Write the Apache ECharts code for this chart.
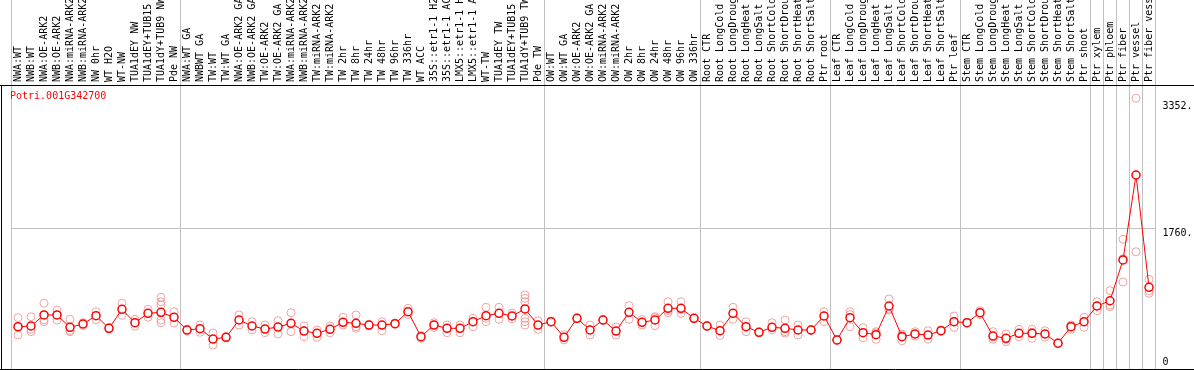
<!DOCTYPE html>
<html><head><meta charset="utf-8">
<script src="https://cdn.jsdelivr.net/npm/echarts@6/dist/echarts.min.js"></script>
<style>html,body{margin:0;padding:0;background:#fff}#c{width:1194px;height:370px}</style>
</head><body><div id="c"></div>
<script>
const geneId = 'Potri.001G342700';

const categories = [
  'NWA:WT','NWB:WT','NWA:OE-ARK2','NWB:OE-ARK2','NWA:miRNA-ARK2','NWB:miRNA-ARK2','NW 0hr','WT H2O','WT-NW','TUA1dEY NW','TUA1dEY+TUB15 NW','TUA1dY+TUB9 NW','Pde NW',
  'NWA:WT GA','NWBWT GA','TW:WT','TW:WT GA','NWA:OE-ARK2 GA','NWB:OE-ARK2 GA','TW:OE-ARK2','TW:OE-ARK2 GA','NWA:miRNA-ARK2 GA','NWB:miRNA-ARK2 GA','TW:miRNA-ARK2','TW:miRNA-ARK2 GA','TW 2hr','TW 8hr','TW 24hr','TW 48hr','TW 96hr','TW 336hr','WT ACC','35S::etr1-1 H2O','35S::etr1-1 ACC','LMX5::etr1-1 H2O','LMX5::etr1-1 ACC','WT-TW','TUA1dEY TW','TUA1dEY+TUB15 TW','TUA1dY+TUB9 TW','Pde TW',
  'OW:WT','OW:WT GA','OW:OE-ARK2','OW:OE-ARK2 GA','OW:miRNA-ARK2','OW:miRNA-ARK2 GA','OW 2hr','OW 8hr','OW 24hr','OW 48hr','OW 96hr','OW 336hr',
  'Root CTR','Root LongCold','Root LongDrought','Root LongHeat','Root LongSalt','Root ShortCold','Root ShortDrought','Root ShortHeat','Root ShortSalt','Ptr root',
  'Leaf CTR','Leaf LongCold','Leaf LongDrought','Leaf LongHeat','Leaf LongSalt','Leaf ShortCold','Leaf ShortDrought','Leaf ShortHeat','Leaf ShortSalt','Ptr leaf',
  'Stem CTR','Stem LongCold','Stem LongDrought','Stem LongHeat','Stem LongSalt','Stem ShortCold','Stem ShortDrought','Stem ShortHeat','Stem ShortSalt','Ptr shoot',
  'Ptr xylem','Ptr phloem','Ptr fiber','Ptr vessel','Ptr fiber vessel'
];

// indices of categories that start a new group (separator drawn on their left edge)
const groupStarts = [0, 13, 41, 53, 63, 73, 83, 84, 85, 86, 87];

const meanValues = [
  529,538,676,676,522,563,667,509,747,579,697,709,647,
  488,504,375,397,613,538,500,525,572,475,447,497,584,572,550,550,567,717,404,550,509,509,592,667,697,663,751,550,
  592,397,634,488,613,475,709,584,613,759,759,634,
  538,479,697,529,459,522,509,488,488,663,
  363,642,454,430,788,404,438,425,479,592,
  579,704,413,384,447,447,438,322,529,592,
  788,854,1364,2427,1022
];

const replicateValues = [
  [642,425,520],[654,467,495],[822,592,615],[738,613,676],[622,467,480],[580,545],[717,617],[520,500],[822,672],[622,535,580],[747,647],[897,842,801,700,613,579],[717,577],
  [500,475],[550,460],[450,300],[405,390],[676,550],[592,488],[550,455],[604,438],[704,467],[538,404,480],[488,397],[538,454],[647,550],[676,529,510],[560,540],[592,479],[575,560],[759,680],[420,384],[579,520],[550,454],[550,454],[634,529],[772,592,635],[772,622],[697,630],[926,884,842,634,592,550],[604,496],
  [600,585],[430,363],[640,628],[550,425],[620,605],[525,425],[792,622],[618,550],[640,542,655],[842,704,730],[842,697,740],[640,628],
  [545,530],[550,420],[772,622],[590,467],[465,452],[579,488],[613,467,450],[550,425],[495,480],[717,592],
  [370,356],[717,680,529],[517,390],[467,372,450],[876,738,750],[438,354,420],[467,410],[479,372],[490,470],[663,520],
  [585,575],[729,680],[467,372,400],[438,342,372],[497,404],[497,384,460],[479,397],[330,315],[550,497,540],[647,522],
  [842,729,790],[980,779,800],[1623,1088,1380],[3387,1467],[1122,980,947]
];

const yMax = 3553;
const gridLineValue = 1760;
const yTickValues = [1760, 3352];
const yTickLabels = ['1760.', '3352.'];
const yZeroValues = [0];
const yZeroLabels = ['0'];

const FONT = 'DejaVu Sans Mono';
const isSep = (i) => groupStarts.indexOf(i) >= 0;
const pickLabel = (vals, labs) => (v) => {
  let best = 0;
  for (let k = 1; k < vals.length; k++) if (Math.abs(vals[k] - v) < Math.abs(vals[best] - v)) best = k;
  return labs[best];
};

const repData = [];
replicateValues.forEach((arr, i) => arr.forEach(v => repData.push([i, v])));

const sepLine = {show: true, interval: (i) => isSep(i), lineStyle: {color: '#c0c0c0', width: 1, type: 'solid'}};

const chart = echarts.init(document.getElementById('c'), null, {renderer: 'canvas'});
chart.setOption({
  animation: false,
  backgroundColor: '#ffffff',
  title: {
    text: geneId, left: 10, top: 91, padding: 0,
    textStyle: {color: '#ff0000', fontSize: 10, fontFamily: FONT, fontWeight: 'normal'}
  },
  grid: [
    {left: 11.5, width: 1144, top: 85, bottom: 1, containLabel: false, outerBoundsMode: 'none'},
    {left: 11.5, width: 1144, top: 0, height: 85, containLabel: false, outerBoundsMode: 'none'}
  ],
  xAxis: [
    {
      type: 'category', gridIndex: 0, data: categories, position: 'top', boundaryGap: true,
      min: 0, max: categories.length - 1,
      axisLine: {show: false}, axisTick: {show: false},
      axisLabel: {interval: 0, rotate: 90, margin: 3, fontSize: 10, fontFamily: FONT, color: '#000'},
      splitLine: sepLine
    },
    {
      type: 'category', gridIndex: 1, data: categories, position: 'bottom', boundaryGap: true,
      min: 0, max: categories.length - 1,
      axisLine: {show: false}, axisTick: {show: false}, axisLabel: {show: false},
      splitLine: sepLine
    }
  ],
  yAxis: [
    {
      type: 'value', gridIndex: 0, position: 'right', min: 0, max: yMax,
      axisLine: {show: false}, axisTick: {show: false}, splitLine: {show: false},
      axisLabel: {customValues: yTickValues, formatter: pickLabel(yTickValues, yTickLabels), verticalAlign: 'top',
        margin: 7, fontSize: 10, fontFamily: FONT, color: '#000'}
    },
    {
      type: 'value', gridIndex: 0, position: 'right', min: 0, max: yMax,
      axisLine: {show: false}, axisTick: {show: false}, splitLine: {show: false},
      axisLabel: {customValues: yZeroValues, formatter: pickLabel(yZeroValues, yZeroLabels), verticalAlign: 'bottom',
        margin: 7, fontSize: 10, fontFamily: FONT, color: '#000', padding: [0, 0, 2, 0]}
    },
    {type: 'value', gridIndex: 1, show: false, min: 0, max: 1}
  ],
  series: [
    {
      type: 'scatter', xAxisIndex: 0, yAxisIndex: 0, data: repData, silent: true,
      symbol: 'circle', symbolSize: 8,
      itemStyle: {color: 'rgba(0,0,0,0)', borderColor: '#ee9090', borderWidth: 1},
      z: 2,
      markLine: {
        silent: true, symbol: 'none', label: {show: false}, z: 1,
        lineStyle: {color: '#c0c0c0', width: 1, type: 'solid'},
        data: [{yAxis: gridLineValue}]
      }
    },
    {
      type: 'line', xAxisIndex: 0, yAxisIndex: 0, data: meanValues, silent: true,
      symbol: 'circle', symbolSize: 8, showAllSymbol: true,
      itemStyle: {color: '#ffffff', borderColor: '#ff0000', borderWidth: 1.5},
      lineStyle: {color: '#ff0000', width: 1},
      z: 3
    }
  ],
  graphic: [
    {type: 'line', silent: true, z: 100, shape: {x1: 0, y1: 85.5, x2: 1194, y2: 85.5}, style: {stroke: '#000', lineWidth: 1}},
    {type: 'line', silent: true, z: 100, shape: {x1: 0, y1: 369.5, x2: 1194, y2: 369.5}, style: {stroke: '#000', lineWidth: 1}},
    {type: 'line', silent: true, z: 100, shape: {x1: 1.5, y1: 85, x2: 1.5, y2: 370}, style: {stroke: '#000', lineWidth: 1}}
  ]
});
</script>
</body></html>
